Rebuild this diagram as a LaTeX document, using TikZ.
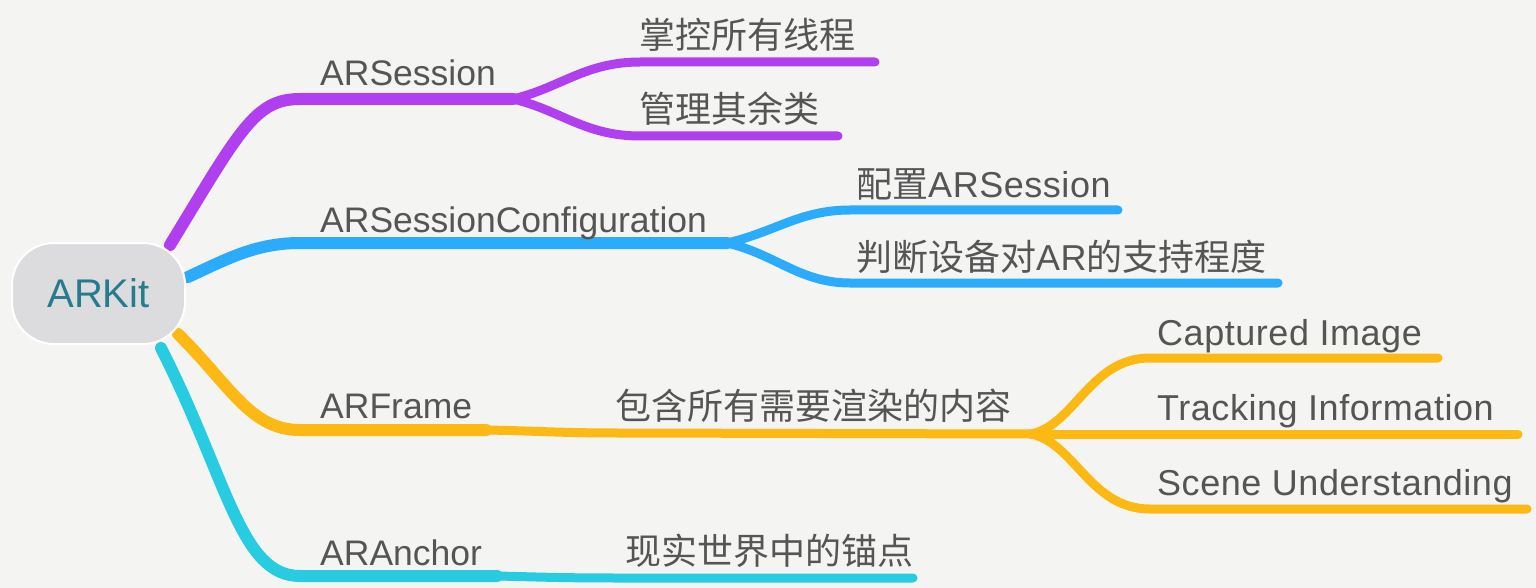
\documentclass[tikz,border=0pt]{standalone}
\usepackage{fontspec}
\setmainfont{Liberation Sans}[LetterSpace=1.5]
\newfontfamily\plainfont{Liberation Sans}
\newfontfamily\cjk{Noto Sans CJK SC}
\definecolor{bgc}{HTML}{F4F5F3}
\definecolor{rootfill}{HTML}{DCDCDF}
\definecolor{roottext}{HTML}{267C8E}
\definecolor{txt}{HTML}{555555}
\definecolor{cpurple}{HTML}{B03FF0}
\definecolor{cblue}{HTML}{2AABFB}
\definecolor{corange}{HTML}{FDB913}
\definecolor{ccyan}{HTML}{27CCE0}
\begin{document}
\begin{tikzpicture}[x=1pt,y=-1pt,
  lbl/.style={anchor=base west,inner sep=0pt,text=txt,font=\fontsize{36}{43}\selectfont},
  mainlbl/.style={lbl,font=\plainfont\fontsize{35.5}{43}\selectfont},
  mainline/.style={line width=12pt,line cap=round},
  subline/.style={line width=9pt,line cap=round},
  rootbox/.style={fill=rootfill,draw=white,line width=2pt,rounded corners=42pt,minimum width=173pt,minimum height=101pt,inner sep=0pt,text=roottext,font=\plainfont\fontsize{40}{48}\selectfont}]
\fill[bgc] (0,0) rectangle (1536,588);
\useasboundingbox (0,0) rectangle (1536,588);

% coordinates
\coordinate (sP) at (170,245);
\coordinate (sB) at (188,277);
\coordinate (sO) at (178,334);
\coordinate (sC) at (161,348);
\coordinate (hP) at (300,99);
\coordinate (fP) at (513,99);
\coordinate (hB) at (300,243);
\coordinate (fB) at (727,243);
\coordinate (hO) at (300,430);
\coordinate (eO) at (486,430);
\coordinate (fO) at (1031,434);
\coordinate (hC) at (300,576);
\coordinate (eC) at (497,576);
\coordinate (P1) at (875,62);
\coordinate (P2) at (838,136);
\coordinate (B1) at (1118,210);
\coordinate (B2) at (1278,283);
\coordinate (O1) at (1438,358);
\coordinate (O2) at (1518,434);
\coordinate (O3) at (1527,509);
\coordinate (C1) at (913,578);

% purple
\draw[mainline,cpurple] (sP) .. controls (240,130) and (255,99) .. (hP) -- (fP);
\draw[subline,cpurple] (fP) .. controls (560,88) and (585,62) .. (640,62) -- (P1);
\draw[subline,cpurple] (fP) .. controls (560,110) and (585,136) .. (640,136) -- (P2);
% blue
\draw[mainline,cblue] (sB) .. controls (225,260) and (255,243) .. (hB) -- (fB);
\draw[subline,cblue] (fB) .. controls (775,232) and (800,210) .. (850,210) -- (B1);
\draw[subline,cblue] (fB) .. controls (775,254) and (800,283) .. (850,283) -- (B2);
% orange
\draw[mainline,corange] (sO) .. controls (230,385) and (250,430) .. (hO) -- (eO);
\draw[subline,corange] (eO) .. controls (540,431) and (560,433) .. (620,433) -- (fO);
\draw[subline,corange] (fO) .. controls (1075,425) and (1090,358) .. (1150,358) -- (O1);
\draw[subline,corange] (fO) -- (O2);
\draw[subline,corange] (fO) .. controls (1075,443) and (1090,509) .. (1150,509) -- (O3);
% cyan
\draw[mainline,ccyan] (sC) .. controls (228,480) and (240,576) .. (hC) -- (eC);
\draw[subline,ccyan] (eC) .. controls (540,577) and (560,578) .. (620,578) -- (C1);

% root
\node[rootbox] (root) at (98.5,293.5) {ARKit};

% labels
\node[mainlbl] (l1) at (320,86) {ARSession};
\node[mainlbl] (l2) at (320,233) {ARSessionConfiguration};
\node[mainlbl] (l3) at (320,418) {ARFrame};
\node[mainlbl] (l4) at (320,565) {ARAnchor};
\node[lbl] (l11) at (639,49) {\cjk 掌控所有线程};
\node[lbl] (l12) at (639,123) {\cjk 管理其余类};
\node[lbl] (l21) at (856,197) {{\cjk 配置}ARSession};
\node[lbl] (l22) at (856,270) {{\cjk 判断设备对}AR{\cjk 的支持程度}};
\node[lbl] (l31) at (615,419) {\cjk 包含所有需要渲染的内容};
\node[lbl] (l311) at (1157,345) {Captured Image};
\node[lbl] (l312) at (1157,420) {Tracking Information};
\node[lbl] (l313) at (1157,495) {Scene Understanding};
\node[lbl] (l41) at (625,564) {\cjk 现实世界中的锚点};
\end{tikzpicture}
\end{document}
